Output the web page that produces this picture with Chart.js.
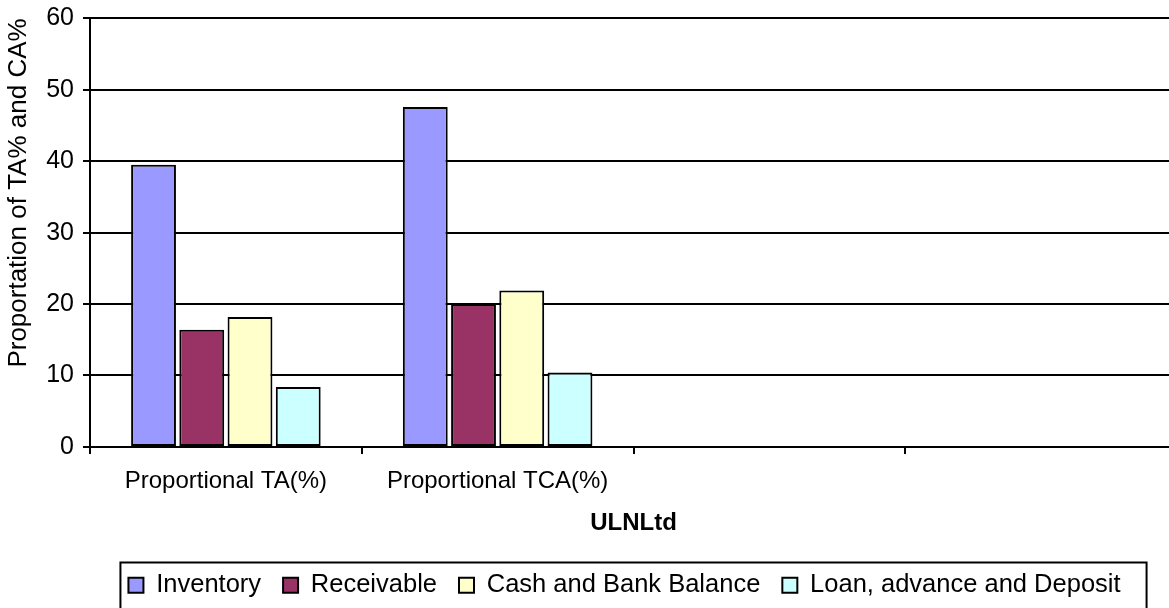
<!DOCTYPE html>
<html>
<head>
<meta charset="utf-8">
<script src="https://cdn.jsdelivr.net/npm/chart.js@4/dist/chart.umd.min.js"></script>
<style>
  html, body { margin: 0; padding: 0; background: #fff; overflow: hidden; }
  canvas { display: block; }
</style>
</head>
<body>
<canvas id="assets-chart" width="1180" height="608"></canvas>
<script>
// categories on the x axis (the last two slots are empty)
const categories = ['Proportional TA(%)', 'Proportional TCA(%)', '', ''];

// series values, in percent
const inventory = [39.5, 47.6];
const receivable = [16.4, 20.0];
const cashAndBank = [18.2, 21.9];
const loanAdvanceDeposit = [8.4, 10.4];

const yTicks = [0, 10, 20, 30, 40, 50, 60];

const FONT = 'Liberation Sans, Arial, sans-serif';

// nudges the legend a little left and draws a frame around it
const legendFrame = {
  id: 'legendFrame',
  afterLayout(chart) {
    chart.legend.left -= 9;
    chart.legend.right -= 9;
  },
  afterDraw(chart) {
    const boxes = chart.legend.legendHitBoxes;
    if (!boxes || !boxes.length) return;
    const ctx = chart.ctx;
    const left = Math.min(...boxes.map(b => b.left)) - 8;
    const right = Math.max(...boxes.map(b => b.left + b.width)) + 26;
    const top = boxes[0].top - 10;
    const bottom = boxes[0].top + boxes[0].height + 14;
    ctx.save();
    ctx.strokeStyle = '#000';
    ctx.lineWidth = 2;
    ctx.strokeRect(left, top, right - left, bottom - top);
    ctx.restore();
  }
};

function bars(label, data, color) {
  return {
    label: label,
    data: data,
    backgroundColor: color,
    borderColor: '#000',
    borderWidth: 2,
    borderSkipped: false,
    categoryPercentage: 0.71,
    barPercentage: 0.93
  };
}

const assetsChart = new Chart(document.getElementById('assets-chart'), {
  type: 'bar',
  data: {
    labels: categories,
    datasets: [
      bars('Inventory', inventory, '#9999FF'),
      bars('Receivable', receivable, '#993366'),
      bars('Cash and Bank Balance', cashAndBank, '#FFFFCC'),
      bars('Loan, advance and Deposit', loanAdvanceDeposit, '#CCFFFF')
    ]
  },
  options: {
    responsive: false,
    animation: false,
    layout: { padding: { top: 0, right: 3, left: 0, bottom: 0 } },
    plugins: {
      tooltip: { enabled: false },
      legend: {
        position: 'bottom',
        fullSize: false,
        labels: {
          color: '#000',
          font: { family: FONT, size: 25.5 },
          boxWidth: 15,
          boxHeight: 15,
          padding: 22
        }
      }
    },
    scales: {
      x: {
        grid: {
          offset: true,
          drawOnChartArea: false,
          drawTicks: true,
          tickLength: 7,
          color: '#000',
          lineWidth: 2
        },
        border: { color: '#000', width: 2 },
        ticks: {
          color: '#000',
          font: { family: FONT, size: 24 },
          padding: 13,
          maxRotation: 0
        },
        title: {
          display: true,
          text: 'ULNLtd',
          color: '#000',
          font: { family: FONT, size: 24, weight: 'bold' },
          padding: { top: 0, bottom: 13 }
        }
      },
      y: {
        min: 0,
        max: 60,
        afterBuildTicks(scale) {
          scale.ticks = yTicks.map(v => ({ value: v }));
        },
        grid: {
          color: '#000',
          lineWidth: 2,
          drawTicks: true,
          tickLength: 7
        },
        border: { color: '#000', width: 2 },
        ticks: {
          color: '#000',
          font: { family: FONT, size: 25, lineHeight: 0.75 },
          padding: 9
        },
        title: {
          display: true,
          text: 'Proportation of TA% and CA%',
          align: 'end',
          color: '#000',
          font: { family: FONT, size: 26 },
          padding: { top: 3, bottom: 3 }
        }
      }
    }
  },
  plugins: [legendFrame]
});
</script>
</body>
</html>
